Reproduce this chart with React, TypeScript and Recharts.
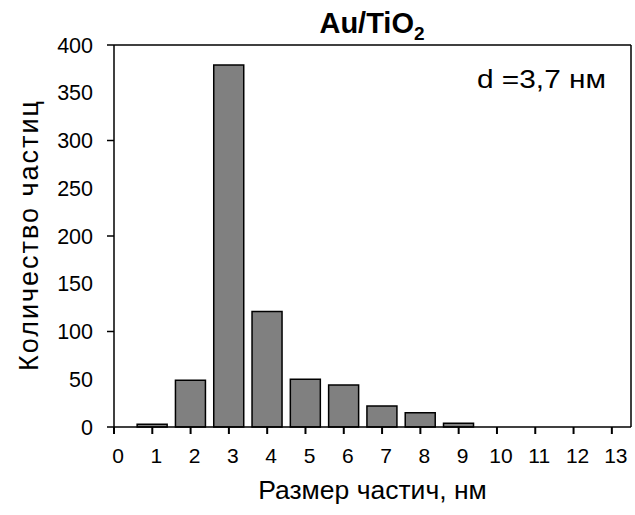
import { BarChart, Bar, XAxis, YAxis, ReferenceLine, Label } from 'recharts'

// Распределение частиц Au по размерам (гистограмма)
const sizes = [1, 2, 3, 4, 5, 6, 7, 8, 9]
const counts = [3, 49, 379, 121, 50, 44, 22, 15, 4]
const xTicks = [0, 1, 2, 3, 4, 5, 6, 7, 8, 9, 10, 11, 12, 13]
const yTicks = [0, 50, 100, 150, 200, 250, 300, 350, 400]
const xLabel = 'Размер частич, нм'
const yLabel = 'Количество частиц'
const note = 'd =3,7 нм'

const FONT = '"Liberation Sans", Arial, sans-serif'

const data = sizes.map((s, i) => ({ size: s, count: counts[i] }))

function XTick({ x, y, payload }: any) {
  return (
    <g>
      <line x1={x} x2={x} y1={y - 7} y2={y} stroke="#000" strokeWidth={2} />
      <text x={x + 4} y={y + 29} textAnchor="middle" fontSize={21} fontFamily={FONT} fill="#000">
        {payload.value}
      </text>
    </g>
  )
}

function YTick({ x, y, payload }: any) {
  const major = payload.value % 100 === 0
  return (
    <g>
      {major && <line x1={x} x2={x + 7} y1={y} y2={y} stroke="#000" strokeWidth={1.5} />}
      <text x={x - 14} y={y} dy="0.35em" textAnchor="end" fontSize={21.5} fontFamily={FONT} fill="#000">
        {payload.value}
      </text>
    </g>
  )
}

export default function App() {
  return (
    <div style={{ position: 'absolute', left: 0, top: 0, width: 635, height: 515, background: '#fff' }}>
      <BarChart width={635} height={515} data={data} margin={{ top: 45, right: 4, left: 54, bottom: 58 }}>
        <XAxis
          type="number"
          dataKey="size"
          domain={[0, 13.5]}
          ticks={xTicks}
          height={30}
          tickSize={7}
          tickMargin={0}
          tickLine={false}
          axisLine={{ stroke: '#000', strokeWidth: 1.5 }}
          tick={<XTick />}
          interval={0}
        >
          <Label
            content={({ viewBox }: any) => (
              <text
                x={viewBox.x + viewBox.width / 2}
                y={viewBox.y + 72}
                textAnchor="middle"
                fontSize={26.5}
                fontFamily={FONT}
                fill="#000"
              >
                {xLabel}
              </text>
            )}
          />
        </XAxis>
        <YAxis
          type="number"
          domain={[0, 400]}
          ticks={yTicks}
          width={60}
          tickSize={7}
          tickMargin={0}
          tickLine={false}
          axisLine={{ stroke: '#000', strokeWidth: 1.5 }}
          tick={<YTick />}
          interval={0}
        >
          <Label
            content={({ viewBox }: any) => {
              const cx = viewBox.x - 16
              const cy = viewBox.y + viewBox.height / 2
              return (
                <text
                  x={cx}
                  y={cy}
                  transform={`rotate(-90 ${cx} ${cy})`}
                  textAnchor="middle"
                  fontSize={27}
                  textLength={270}
                  fontFamily={FONT}
                  fill="#000"
                >
                  {yLabel}
                </text>
              )
            }}
          />
        </YAxis>
        <ReferenceLine y={400} stroke="#000" strokeWidth={1.5} />
        <ReferenceLine x={13.5} stroke="#000" strokeWidth={1.5} />
        <Bar dataKey="count" fill="#808080" stroke="#000" strokeWidth={1.5} barSize={30} isAnimationActive={false} />
      </BarChart>
      <svg width={635} height={515} style={{ position: 'absolute', left: 0, top: 0, pointerEvents: 'none' }}>
        <text x={372} y={33} textAnchor="middle" fontSize={29} fontWeight="bold" fontFamily={FONT} fill="#000">
          Au/TiO
          <tspan fontSize={19} dy={7}>
            2
          </tspan>
        </text>
        <text
          x={477}
          y={88}
          fontSize={26}
          textLength={129}
          lengthAdjust="spacingAndGlyphs"
          fontFamily={FONT}
          fill="#000"
        >
          {note}
        </text>
      </svg>
    </div>
  )
}
